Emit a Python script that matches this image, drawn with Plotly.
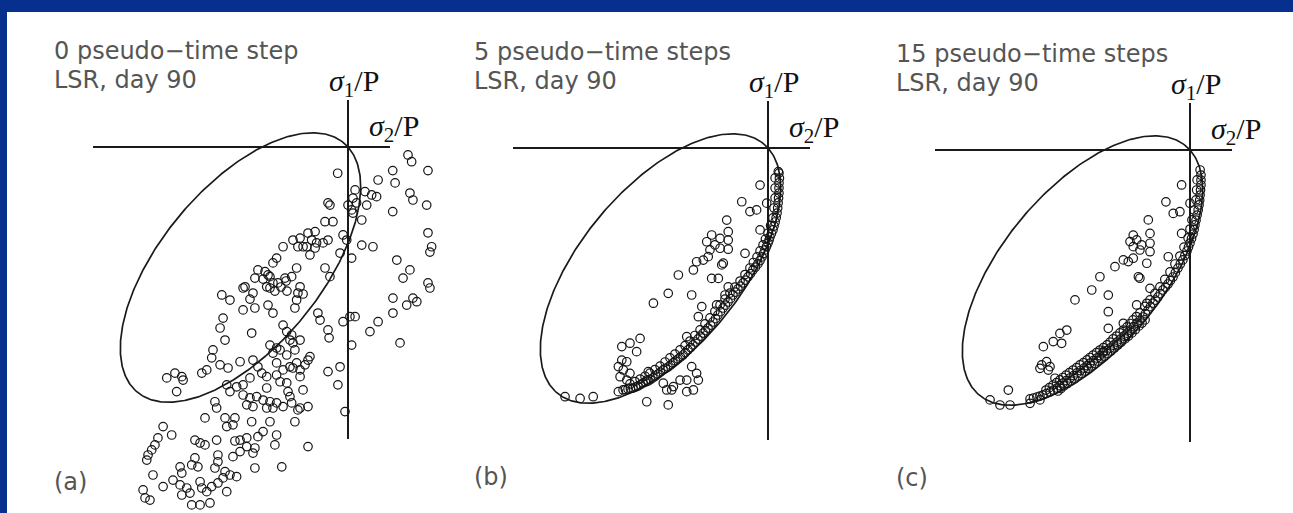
import numpy as np
import plotly.graph_objects as go

W, H = 1293, 513

# ---------------- data (units of sigma/P) ----------------
PANEL_TITLES = ["0 pseudo−time step", "5 pseudo−time steps", "15 pseudo−time steps"]
PANEL_SUBTITLE = "LSR, day 90"
PANEL_TAGS = ["(a)", "(b)", "(c)"]
E_RATIO = 2.0            # ellipse aspect ratio of the yield curve
CURVE_CENTER = (-0.5, -0.5)

A_X = [-0.048, 0.140, 0.208, 0.219, 0.279, 0.296, 0.372, 0.033, 0.079, 0.110,
       0.133, 0.023, 0.040, 0.000, 0.017, 0.023, -0.084, -0.093, 0.087, 0.288,
       0.302, 0.366, 0.208, 0.064, -0.107, -0.070, -0.153, -0.186, -0.023, -0.006,
       0.372, -0.256, -0.223, -0.233, -0.209, -0.169, -0.153, -0.177, -0.093, -0.116,
       -0.302, 0.064, 0.116, 0.389, 0.381, -0.037, 0.017, -0.332, -0.349, -0.239,
       -0.419, -0.386, -0.433, -0.363, -0.349, -0.378, -0.293, -0.262, -0.107, -0.084,
       0.227, 0.288, 0.256, 0.372, 0.381, -0.223, -0.233, -0.479, -0.442, 0.209,
       0.302, -0.192, -0.146, -0.372, -0.395, -0.326, -0.363, -0.340, -0.312, -0.288,
       -0.284, -0.209, -0.239, -0.488, -0.587, -0.549, -0.456, -0.488, -0.433, -0.372,
       -0.349, -0.247, -0.581, -0.595, -0.448, -0.302, -0.285, -0.262, -0.572, -0.628,
       -0.363, -0.332, -0.223, -0.247, -0.177, -0.140, -0.130, -0.023, 0.009, 0.033,
       -0.093, -0.088, 0.102, 0.140, 0.209, 0.273, 0.320, 0.017, 0.242, -0.270,
       -0.037, -0.093, -0.047, -0.014, -0.186, -0.200, -0.223, -0.256, -0.209, -0.223,
       -0.186, -0.247, -0.270, -0.634, -0.595, -0.558, -0.680, -0.657, -0.843, -0.805,
       -0.773, -0.767, -0.797, -0.502, -0.442, -0.419, -0.349, -0.316, -0.285, -0.256,
       -0.332, -0.302, -0.270, -0.239, -0.401, -0.378, -0.456, -0.488, -0.518, -0.564,
       -0.549, -0.332, -0.316, -0.285, -0.223, -0.279, -0.262, -0.378, -0.488, -0.456,
       -0.425, -0.395, -0.363, -0.332, -0.302, -0.349, -0.378, -0.471, -0.442, -0.619,
       -0.611, -0.233, -0.665, -0.572, -0.526, -0.564, -0.535, -0.448, -0.363, -0.395,
       -0.419, -0.471, -0.502, -0.526, -0.332, -0.340, -0.471, -0.502, -0.535, -0.433,
       -0.442, -0.611, -0.605, -0.712, -0.688, -0.665, -0.860, -0.820, -0.884, -0.898,
       -0.913, -0.930, -0.936, -0.186, -0.308, -0.433, -0.712, -0.727, -0.698, -0.605,
       -0.619, -0.781, -0.773, -0.572, -0.549, -0.518, -0.581, -0.907, -0.860, -0.814,
       -0.781, -0.750, -0.735, -0.773, -0.688, -0.680, -0.657, -0.634, -0.605, -0.564,
       -0.953, -0.944, -0.921, -0.727, -0.688, -0.642]
A_Y = [-0.109, -0.137, -0.098, -0.149, -0.033, -0.061, -0.098, -0.178, -0.185, -0.199,
       -0.206, -0.212, -0.232, -0.241, -0.261, -0.274, -0.241, -0.232, -0.241, -0.191,
       -0.220, -0.241, -0.268, -0.303, -0.310, -0.310, -0.351, -0.357, -0.365, -0.386,
       -0.356, -0.386, -0.378, -0.414, -0.414, -0.386, -0.419, -0.448, -0.386, -0.398,
       -0.414, -0.407, -0.414, -0.414, -0.436, -0.440, -0.461, -0.461, -0.481, -0.502,
       -0.510, -0.517, -0.544, -0.538, -0.564, -0.580, -0.544, -0.538, -0.502, -0.538,
       -0.469, -0.510, -0.544, -0.564, -0.585, -0.580, -0.606, -0.580, -0.606, -0.627,
       -0.627, -0.414, -0.398, -0.531, -0.548, -0.564, -0.585, -0.598, -0.581, -0.556,
       -0.598, -0.610, -0.635, -0.585, -0.614, -0.635, -0.631, -0.676, -0.668, -0.656,
       -0.689, -0.668, -0.710, -0.751, -0.772, -0.739, -0.766, -0.780, -0.801, -0.842,
       -0.822, -0.834, -0.801, -0.842, -0.870, -0.689, -0.718, -0.725, -0.704, -0.704,
       -0.759, -0.792, -0.766, -0.725, -0.689, -0.656, -0.642, -0.822, -0.813, -0.801,
       -0.912, -0.932, -0.987, -1.098, -0.884, -0.904, -0.925, -0.917, -1.008, -1.083,
       -1.077, -1.140, -1.036, -0.875, -0.904, -0.917, -0.938, -0.925, -0.958, -0.938,
       -0.953, -0.967, -1.015, -0.891, -0.884, -0.912, -0.855, -0.842, -0.863, -0.813,
       -0.896, -0.925, -0.912, -0.896, -0.938, -0.953, -0.958, -0.987, -0.995, -0.987,
       -1.015, -0.946, -0.974, -0.979, -0.953, -1.015, -1.062, -1.000, -1.029, -1.041,
       -1.036, -1.050, -1.057, -1.062, -1.077, -1.083, -1.083, -1.070, -1.077, -1.057,
       -1.083, -1.091, -1.124, -1.124, -1.124, -1.160, -1.153, -1.140, -1.140, -1.181,
       -1.202, -1.207, -1.216, -1.220, -1.195, -1.236, -1.243, -1.264, -1.285, -1.249,
       -1.270, -1.216, -1.278, -1.216, -1.228, -1.236, -1.160, -1.195, -1.207, -1.236,
       -1.257, -1.278, -1.299, -1.243, -1.327, -1.332, -1.290, -1.319, -1.327, -1.306,
       -1.332, -1.327, -1.353, -1.347, -1.361, -1.368, -1.373, -1.361, -1.409, -1.382,
       -1.402, -1.415, -1.436, -1.444, -1.389, -1.415, -1.430, -1.409, -1.394, -1.430,
       -1.423, -1.456, -1.465, -1.485, -1.485, -1.477]

# panel (b): points scattered inside the curve
B_X = [0.048, -0.037, -0.122, -0.084, -0.053, -0.006, -0.037, -0.107, -0.192, -0.262,
       -0.223, -0.185, -0.185, -0.285, -0.247, -0.270, -0.223, -0.185, -0.332, -0.301,
       -0.278, -0.347, -0.215, -0.208, -0.417, -0.262, -0.231, -0.185, -0.464, -0.355,
       -0.200, -0.533, -0.239, -0.308, -0.324, -0.378, -0.595, -0.642, -0.680, -0.611,
       -0.680, -0.657, -0.696, -0.673, -0.642, -0.688, -0.657, -0.557, -0.564, -0.355,
       -0.332, -0.324, -0.378, -0.347, -0.409, -0.440, -0.448, -0.487, -0.471, -0.696,
       -0.944, -0.874, -0.813, -0.564, -0.464, -0.378]
B_Y = [-0.098, -0.154, -0.223, -0.264, -0.257, -0.229, -0.340, -0.437, -0.299, -0.361,
       -0.375, -0.347, -0.382, -0.389, -0.402, -0.423, -0.416, -0.420, -0.472, -0.465,
       -0.451, -0.506, -0.485, -0.478, -0.527, -0.541, -0.541, -0.576, -0.603, -0.610,
       -0.610, -0.644, -0.651, -0.658, -0.700, -0.783, -0.790, -0.810, -0.824, -0.845,
       -0.880, -0.887, -0.907, -0.921, -0.935, -0.949, -0.963, -0.928, -0.963, -0.907,
       -0.935, -0.963, -0.963, -1.004, -0.963, -0.990, -1.004, -0.976, -1.004, -1.011,
       -1.032, -1.039, -1.032, -1.053, -1.066, -1.011]
# panel (b): points piled up along the curve
B_EDGE_X = [0.051, 0.053, 0.051, 0.051, 0.051, 0.049, 0.047, 0.045, 0.042, 0.038,
            0.033, 0.028, 0.023, 0.016, 0.009, 0.005, 0.000, -0.007, -0.014, -0.021,
            -0.028, -0.037, -0.047, -0.058, -0.070, -0.081, -0.093, -0.105, -0.116, -0.128,
            -0.140, -0.151, -0.163, -0.174, -0.186, -0.198, -0.209, -0.221, -0.233, -0.244,
            -0.256, -0.267, -0.279, -0.291, -0.302, -0.314, -0.326, -0.337, -0.349, -0.360,
            -0.372, -0.384, -0.395, -0.407, -0.419, -0.430, -0.442, -0.453, -0.465, -0.477,
            -0.488, -0.500, -0.512, -0.523, -0.535, -0.547, -0.558, -0.570, -0.581, -0.593,
            -0.605, -0.616, -0.628, -0.640, -0.651, -0.663, -0.674,
            0.033, 0.033, 0.033, 0.028, 0.023, 0.012, 0.000, -0.012, -0.023, -0.037,
            -0.051, -0.068, -0.084, -0.107, -0.130, -0.154, -0.177, -0.200, -0.223, -0.247,
            -0.270, -0.293, -0.316, -0.340, -0.363, -0.386, -0.409, -0.433, -0.456, -0.479,
            -0.502, -0.526, -0.549, -0.572, -0.595, -0.619, -0.642]
B_EDGE_Y = [-0.104, -0.125, -0.145, -0.166, -0.187, -0.207, -0.228, -0.249, -0.270, -0.289,
            -0.307, -0.324, -0.340, -0.355, -0.369, -0.382, -0.394, -0.409, -0.423, -0.438,
            -0.452, -0.467, -0.481, -0.494, -0.506, -0.521, -0.535, -0.548, -0.560, -0.573,
            -0.585, -0.598, -0.610, -0.625, -0.639, -0.652, -0.664, -0.679, -0.693, -0.708,
            -0.722, -0.735, -0.747, -0.758, -0.768, -0.781, -0.793, -0.805, -0.817, -0.828,
            -0.838, -0.849, -0.859, -0.868, -0.876, -0.884, -0.892, -0.901, -0.909, -0.915,
            -0.921, -0.930, -0.938, -0.946, -0.954, -0.961, -0.967, -0.971, -0.975, -0.982,
            -0.988, -0.992, -0.996, -0.998, -1.000, -1.002, -1.004,
            -0.124, -0.166, -0.207, -0.249, -0.290, -0.322, -0.353, -0.378, -0.402, -0.427,
            -0.452, -0.475, -0.498, -0.525, -0.552, -0.577, -0.602, -0.627, -0.651, -0.678,
            -0.705, -0.730, -0.755, -0.778, -0.801, -0.820, -0.838, -0.855, -0.871, -0.888,
            -0.905, -0.920, -0.934, -0.947, -0.959, -0.969, -0.979]

# panel (c): points scattered inside the curve
C_X = [0.047, -0.039, -0.112, -0.078, -0.047, 0.000, -0.039, -0.101, -0.194, -0.264,
       -0.279, -0.248, -0.225, -0.264, -0.233, -0.186, -0.186, -0.186, -0.349, -0.310,
       -0.287, -0.264, -0.201, -0.419, -0.457, -0.535, -0.380, -0.240, -0.233, -0.186,
       -0.248, -0.201, -0.380, -0.380, -0.310, -0.573, -0.605, -0.636, -0.682, -0.597,
       -0.690, -0.667, -0.651, -0.698, -0.659, -0.628, -0.845, -0.403, -0.930, -0.884,
       -0.837, -0.744, -0.698]
C_Y = [-0.083, -0.145, -0.215, -0.263, -0.256, -0.221, -0.346, -0.443, -0.290, -0.353,
       -0.380, -0.373, -0.394, -0.401, -0.415, -0.346, -0.387, -0.422, -0.484, -0.456,
       -0.463, -0.449, -0.470, -0.526, -0.581, -0.622, -0.602, -0.526, -0.532, -0.574,
       -0.643, -0.636, -0.671, -0.740, -0.719, -0.747, -0.761, -0.795, -0.816, -0.802,
       -0.892, -0.878, -0.899, -0.906, -0.913, -0.947, -0.996, -0.837, -1.037, -1.058,
       -1.058, -1.051, -1.037]
# panel (c): points piled up along the curve
C_EDGE_X = [0.051, 0.051, 0.051, 0.049, 0.047, 0.045, 0.042, 0.038, 0.033, 0.028,
            0.023, 0.019, 0.014, 0.007, 0.000, -0.007, -0.014, -0.024, -0.033, -0.045,
            -0.056, -0.068, -0.079, -0.091, -0.102, -0.114, -0.126, -0.138, -0.149, -0.161,
            -0.172, -0.184, -0.195, -0.207, -0.219, -0.233, -0.247, -0.263, -0.279, -0.293,
            -0.307, -0.324, -0.340, -0.356, -0.372, -0.389, -0.405, -0.419, -0.433, -0.449,
            -0.465, -0.479, -0.493, -0.510, -0.526, -0.542, -0.558, -0.575, -0.591, -0.605,
            -0.619, -0.635, -0.651, -0.668, -0.684, -0.698, -0.712, -0.728, -0.744,
            0.033, 0.031, 0.028, 0.019, 0.009, 0.000, -0.009, -0.028, -0.047, -0.070,
            -0.093, -0.117, -0.140, -0.163, -0.186, -0.210, -0.233, -0.249, -0.265, -0.279,
            -0.293, -0.310, -0.326, -0.342, -0.358, -0.372, -0.386, -0.403, -0.419, -0.435,
            -0.451, -0.465, -0.479, -0.496, -0.512, -0.528, -0.544, -0.561, -0.577, -0.591,
            -0.605, -0.621, -0.637, -0.654, -0.670,
            -0.209, -0.223, -0.237, -0.254, -0.270, -0.286, -0.302, -0.319, -0.335, -0.351,
            -0.367, -0.384, -0.400, -0.414, -0.428, -0.444, -0.460, -0.474, -0.488, -0.505,
            -0.521, -0.537, -0.553, -0.570, -0.586, -0.600, -0.614]
C_EDGE_Y = [-0.104, -0.125, -0.145, -0.166, -0.187, -0.208, -0.228, -0.249, -0.270, -0.291,
            -0.311, -0.330, -0.349, -0.368, -0.386, -0.403, -0.419, -0.438, -0.456, -0.473,
            -0.490, -0.509, -0.527, -0.542, -0.556, -0.569, -0.581, -0.596, -0.610, -0.623,
            -0.635, -0.650, -0.664, -0.679, -0.693, -0.706, -0.718, -0.733, -0.747, -0.760,
            -0.772, -0.785, -0.797, -0.810, -0.822, -0.832, -0.842, -0.853, -0.863, -0.874,
            -0.884, -0.895, -0.905, -0.915, -0.925, -0.936, -0.946, -0.957, -0.967, -0.978,
            -0.988, -0.996, -1.004, -1.011, -1.017, -1.021, -1.025, -1.029, -1.033,
            -0.124, -0.166, -0.207, -0.249, -0.290, -0.328, -0.365, -0.403, -0.440, -0.473,
            -0.506, -0.537, -0.568, -0.595, -0.622, -0.649, -0.676, -0.691, -0.705, -0.720,
            -0.734, -0.747, -0.759, -0.772, -0.784, -0.797, -0.809, -0.820, -0.830, -0.841,
            -0.851, -0.861, -0.871, -0.882, -0.892, -0.903, -0.913, -0.924, -0.934, -0.944,
            -0.954, -0.965, -0.975, -0.986, -0.996,
            -0.705, -0.718, -0.730, -0.745, -0.759, -0.772, -0.784, -0.797, -0.809, -0.822,
            -0.834, -0.845, -0.855, -0.866, -0.876, -0.886, -0.896, -0.907, -0.917, -0.928,
            -0.938, -0.949, -0.959, -0.969, -0.979, -0.990, -1.000]

PANEL_X = [A_X, B_X + B_EDGE_X, C_X + C_EDGE_X]
PANEL_Y = [A_Y, B_Y + B_EDGE_Y, C_Y + C_EDGE_Y]

# ---------------- layout geometry ----------------
SX, SY = 215.0, 241.0                      # pixels per unit of sigma/P
ORIGINS = [(348, 147), (768, 148), (1190, 150)]
TAG_DY = [335, 329, 328]
FRAME_X, FRAME_Y = (-1.185, 0.195), (-1.21, 0.195)
DATA_X, DATA_Y = (-1.40, 0.45), (-1.50, 0.25)
NAVY = "#062f8e"
INK = "#1a1a1a"


def dom_x(ox, r):
    return [(ox + r[0] * SX) / W, (ox + r[1] * SX) / W]


def dom_y(oy, r):
    return [1 - (oy - r[0] * SY) / H, 1 - (oy - r[1] * SY) / H]


# yield-curve ellipse through (0,0) and (-1,-1)
a_half = np.sqrt(2) / 2
b_half = a_half / E_RATIO
t = np.linspace(0, 2 * np.pi, 400)
c45 = np.cos(np.pi / 4)
ell_x = CURVE_CENTER[0] + a_half * np.cos(t) * c45 - b_half * np.sin(t) * c45
ell_y = CURVE_CENTER[1] + a_half * np.cos(t) * c45 + b_half * np.sin(t) * c45

fig = go.Figure()
annotations = []
axis_common = dict(showgrid=False, showticklabels=False, ticks="", showline=False,
                   fixedrange=True)

for i, (ox, oy) in enumerate(ORIGINS):
    fa, da = 2 * i + 1, 2 * i + 2
    fx = "x" if fa == 1 else f"x{fa}"
    fy = "y" if fa == 1 else f"y{fa}"
    dxn, dyn = f"x{da}", f"y{da}"
    fig.update_layout({
        ("xaxis" if fa == 1 else f"xaxis{fa}"): dict(
            domain=dom_x(ox, FRAME_X), range=list(FRAME_X), anchor=fy,
            zeroline=True, zerolinecolor=INK, zerolinewidth=2, **axis_common),
        ("yaxis" if fa == 1 else f"yaxis{fa}"): dict(
            domain=dom_y(oy, FRAME_Y), range=list(FRAME_Y), anchor=fx,
            zeroline=True, zerolinecolor=INK, zerolinewidth=2, **axis_common),
        f"xaxis{da}": dict(domain=dom_x(ox, DATA_X), range=list(DATA_X), anchor=dyn,
                           zeroline=False, **axis_common),
        f"yaxis{da}": dict(domain=dom_y(oy, DATA_Y), range=list(DATA_Y), anchor=dxn,
                           zeroline=False, **axis_common),
    })
    fig.add_trace(go.Scatter(x=ell_x, y=ell_y, mode="lines", xaxis=fx, yaxis=fy,
                             line=dict(color=INK, width=1.7), hoverinfo="skip",
                             showlegend=False))
    fig.add_trace(go.Scatter(x=PANEL_X[i], y=PANEL_Y[i], mode="markers",
                             xaxis=dxn, yaxis=dyn, cliponaxis=False, showlegend=False,
                             marker=dict(symbol="circle-open", size=8.5, color="#151515",
                                         line=dict(width=1.2))))

    left = (ox - 296) / W
    tf = dict(family="DejaVu Sans", size=24, color="#555")
    annotations += [
        dict(x=left, y=1 - (oy - 96) / H, xref="paper", yref="paper", text=PANEL_TITLES[i],
             showarrow=False, xanchor="left", yanchor="middle", font=tf),
        dict(x=left, y=1 - (oy - 67) / H, xref="paper", yref="paper", text=PANEL_SUBTITLE,
             showarrow=False, xanchor="left", yanchor="middle", font=tf),
        dict(x=left, y=1 - (oy + TAG_DY[i]) / H, xref="paper", yref="paper",
             text=PANEL_TAGS[i], showarrow=False, xanchor="left", yanchor="middle",
             font=tf),
    ]
    sf = dict(family="Liberation Serif", size=30, color="#111")
    annotations += [
        dict(x=(ox - 21) / W, y=1 - (oy - 64) / H, xref="paper", yref="paper",
             text="<i>σ</i><sub>1</sub>/P", showarrow=False, xanchor="left",
             yanchor="middle", font=sf),
        dict(x=(ox + 19) / W, y=1 - (oy - 19) / H, xref="paper", yref="paper",
             text="<i>σ</i><sub>2</sub>/P", showarrow=False, xanchor="left",
             yanchor="middle", font=sf),
    ]

fig.update_layout(
    width=W, height=H, margin=dict(l=0, r=0, t=0, b=0),
    paper_bgcolor=NAVY, plot_bgcolor="rgba(0,0,0,0)",
    annotations=annotations,
    shapes=[dict(type="rect", xref="paper", yref="paper", x0=7 / W, x1=1.01,
                 y0=-0.01, y1=1 - 12 / H, fillcolor="white", line=dict(width=0),
                 layer="below")],
    showlegend=False,
)

fig.write_html("out.html")
